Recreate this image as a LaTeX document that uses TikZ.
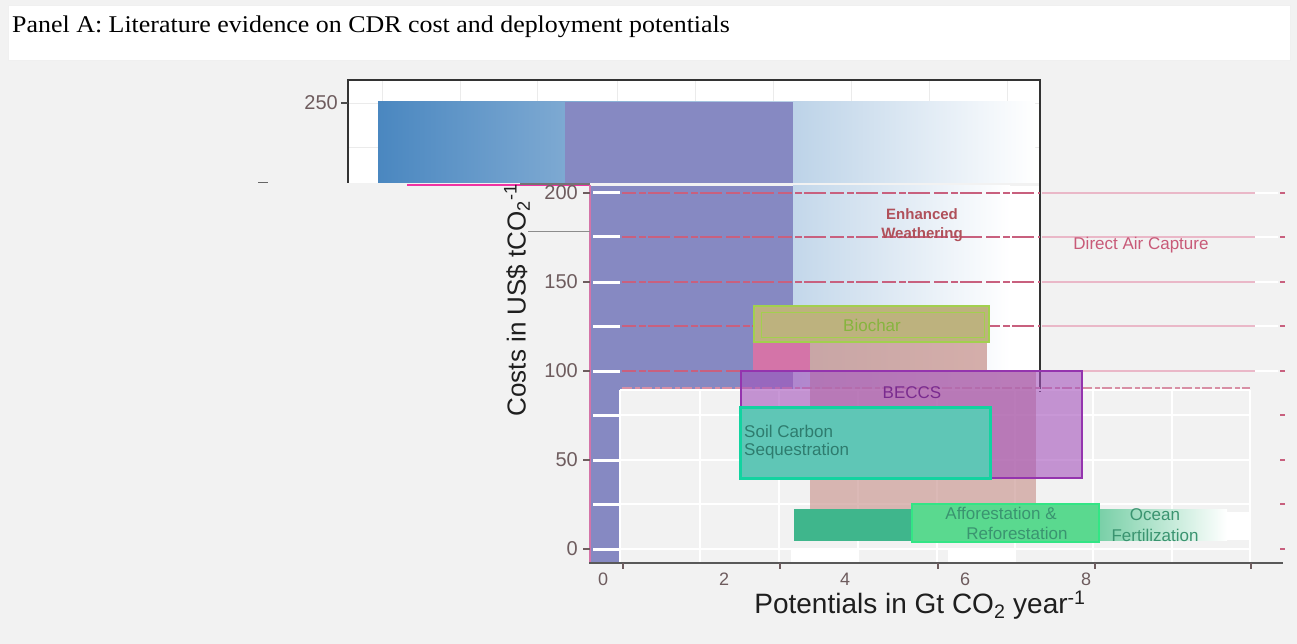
\documentclass[tikz,border=0pt]{standalone}
\usepackage{fontspec}
\setmainfont{Liberation Serif}
\setsansfont{Liberation Sans}
\definecolor{bgc}{HTML}{F2F2F2}
\definecolor{gridc}{HTML}{EBEBEB}
\definecolor{barblue}{HTML}{4A87C0}
\definecolor{lightblue}{HTML}{C3D7EA}
\definecolor{purpc}{HTML}{8689C2}
\definecolor{tickc}{HTML}{6E5C5E}
\definecolor{pinkln}{HTML}{C8607E}
\definecolor{pinklt}{HTML}{EAB8C8}
\definecolor{rosyc}{HTML}{C9958F}
\definecolor{biofill}{HTML}{BDB27E}
\definecolor{bioedge}{HTML}{A2D04E}
\definecolor{biotext}{HTML}{86B53E}
\definecolor{pinkc}{HTML}{D474A8}
\definecolor{beccsfill}{HTML}{A452BC}
\definecolor{beccsedge}{HTML}{9434AE}
\definecolor{beccstext}{HTML}{7A2B8F}
\definecolor{soilfill}{HTML}{5FC6B6}
\definecolor{soiledge}{HTML}{12D3A0}
\definecolor{soiltext}{HTML}{2E7C6E}
\definecolor{darkgreen}{HTML}{3FB68C}
\definecolor{afffill}{HTML}{5AD98F}
\definecolor{affedge}{HTML}{33E585}
\definecolor{afftext}{HTML}{3A9470}
\definecolor{oceanc}{HTML}{7AD0A8}
\definecolor{dactext}{HTML}{C85A78}
\definecolor{ewtext}{HTML}{B0505A}
\begin{document}
\begin{tikzpicture}[x=1pt,y=-1pt,
  ticklab/.style={font=\sffamily\fontsize{20}{20}\selectfont, text=tickc, inner sep=0},
  ylab/.style={ticklab, anchor=east},
  xlab/.style={ticklab, anchor=north, font=\sffamily\fontsize{18}{18}\selectfont},
  boxlab/.style={font=\sffamily\fontsize{17}{20}\selectfont, inner sep=0},
  glitch/.style={pinkln, line width=2.2pt, dash pattern=on 14pt off 3pt on 7pt off 2pt on 22pt off 4pt},
  glitchlt/.style={pinklt, line width=2pt},
  whitestub/.style={white, line width=3pt},
  gridw/.style={white, line width=1.2pt},
  axisc/.style={line width=1.6pt},
]
\useasboundingbox (0,0) rectangle (1297,644);
\fill[bgc] (0,0) rectangle (1297,644);
\draw[fill=white, draw=gray!12] (8,5) rectangle (1290,60);
\node[anchor=base west, inner sep=0, xscale=1.08, font=\fontsize{24}{24}\selectfont] (title) at (12,33) {Panel A: Literature evidence on CDR cost and deployment potentials};

% ---- upper plot fragment ----
\fill[white] (348,80) rectangle (1040,183);
\foreach \gx in {382,460,537,617,695,773,851,929,1007} \draw[gridc] (\gx,80) -- (\gx,183);
\foreach \gy in {103,147} \draw[gridc] (348,\gy) -- (1040,\gy);
\shade[left color=barblue, right color=white] (378,102) rectangle (1035,183);
\fill[purpc] (565,102) rectangle (793,183);
\draw[axisc, black!80] (348,183) -- (348,80) -- (1040,80) -- (1040,392);
\draw[axisc, black!70] (341,103) -- (348,103);
\node[ylab] (t250) at (338,103) {250};
\draw[black!60, line width=1pt] (258,183) -- (268,183);
\draw[magenta!80, line width=1.5pt] (407,185) -- (590,185);

% ---- lower plot fragment ----
\fill[purpc] (591,186) rectangle (793,390);
\fill[purpc] (591,390) rectangle (620,563);
\shade[left color=lightblue, right color=white] (793,186) rectangle (1010,390);
\fill[white] (1010,186) rectangle (1039,390);
\draw[black!80, line width=1.6pt] (1040,183) -- (1040,392);

% lower panel grid
\foreach \gy in {415,460,504,549} \draw[gridw] (620,\gy) -- (1250,\gy);
\foreach \gx in {700,779,858,937,1015,1093,1172,1250} \draw[gridw] (\gx,390) -- (\gx,563);
\draw[white, line width=2pt] (620,390) -- (1250,390);
\draw[white, line width=2pt] (620,390) -- (620,563);
\fill[white] (791,549) rectangle (858,562);
\fill[white] (948,549) rectangle (1015,562);

% white stubs across purple column
\foreach \sy in {193,237,282,326,371,415,460,504,549} \draw[whitestub] (593,\sy) -- (620,\sy);

% glitch lines
\foreach \sy in {193,237,282,326,371} {
  \draw[glitch] (622,\sy) -- (1040,\sy);
  \draw[glitchlt] (1042,\sy) -- (1255,\sy);
  \draw[white, line width=2pt] (1255,\sy) -- (1278,\sy);
  \draw[pinkln, line width=1.5pt] (1280,\sy) -- (1285,\sy);
}
\draw[pinkln!70, line width=1.5pt, dash pattern=on 10pt off 3pt on 5pt off 2pt] (622,388) -- (1250,388);
\foreach \sy in {415,460,504,549} \draw[pinkln, line width=1.5pt] (1280,\sy) -- (1285,\sy);

% rosy (enhanced weathering) box
\fill[rosyc, opacity=0.75] (810,305) rectangle (987,372);
\fill[rosyc, opacity=0.65] (810,372) rectangle (1036,523);
% biochar
\fill[pinkc] (753,305) rectangle (810,372);
\filldraw[fill=biofill, draw=bioedge, line width=2.5pt] (754,306) rectangle (989,342);
\draw[bioedge, line width=1pt] (761,312) rectangle (984,337);
\node[boxlab, text=biotext] (biochar) at (872,325) {Biochar};
% BECCS
\filldraw[fill=beccsfill, fill opacity=0.6, draw=beccsedge, line width=2.5pt] (741,371) rectangle (1082,478);
\node[boxlab, text=beccstext] (beccs) at (912,393) {BECCS};
% soil carbon
\filldraw[fill=soilfill, draw=soiledge, line width=3pt] (740,407) rectangle (990,478);
\node[boxlab, text=soiltext, anchor=west] (soil1) at (744,431) {Soil Carbon};
\node[boxlab, text=soiltext, anchor=west] (soil2) at (744,451) {Sequestration};
% dark green bar
\fill[darkgreen] (794,509) rectangle (1100,541);
% ocean
\shade[left color=oceanc, right color=white] (1100,509) rectangle (1227,540);
\fill[white] (1227,512) rectangle (1250,540);
\node[boxlab, text=afftext] (ocean1) at (1155,515) {Ocean};
\node[boxlab, text=afftext] (ocean2) at (1155,535) {Fertilization};
% afforestation
\filldraw[fill=afffill, draw=affedge, line width=2.5pt] (912,504) rectangle (1099,542);
\node[boxlab, text=afftext] (aff1) at (1001,513) {Afforestation \&};
\node[boxlab, text=afftext] (aff2) at (1017,533) {Reforestation};

% texts in upper region
\node[boxlab, text=ewtext, font=\sffamily\bfseries\fontsize{15}{20}\selectfont] (ew1) at (922,214) {Enhanced};
\node[boxlab, text=ewtext, font=\sffamily\bfseries\fontsize{15}{20}\selectfont] (ew2) at (922,235) {Weathering};
\node[boxlab, text=dactext] (dac) at (1141,245) {Direct Air Capture};

% axes
\draw[pinkc, line width=1.6pt] (590,185) -- (590,563);
\draw[black!55, line width=1.6pt] (520,184) -- (590,184);
\draw[black!45, line width=1pt] (528,232) -- (590,232);
\draw[black!65, line width=2.2pt] (589,563) -- (1283,563);
\foreach \tx in {623,780,938,1095,1251} \draw[tickc, line width=1.5pt] (\tx,563) -- (\tx,569);
\foreach \ty/\tl/\tn in {193/200/ya,282/150/yb,371/100/yc,460/50/yd,549/0/ye} {
  \draw[tickc, line width=1.5pt] (583,\ty) -- (590,\ty);
  \node[ylab] (\tn) at (578,\ty) {\tl};
}
\foreach \lx/\tl/\tn in {603/0/xa,724/2/xb,845/4/xc,965/6/xd,1086/8/xe}
  \node[xlab] (\tn) at (\lx,573) {\tl};

% axis titles
\node[font=\sffamily\fontsize{26}{26}\selectfont, text=black!88, rotate=90, inner sep=0] (ytitle) at (517,300) {Costs in US\$ tCO\textsubscript{2}\textsuperscript{-1}};
\node[font=\sffamily\fontsize{28}{28}\selectfont, text=black!88, inner sep=0] (xtitle) at (920,605) {Potentials in Gt CO\textsubscript{2} year\textsuperscript{-1}};
\end{tikzpicture}
\end{document}
